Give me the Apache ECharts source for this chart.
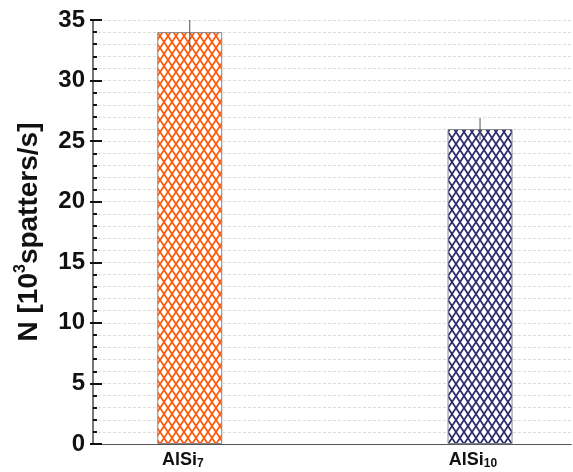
<!DOCTYPE html>
<html>
<head>
<meta charset="utf-8">
<script src="https://cdn.jsdelivr.net/npm/echarts@6/dist/echarts.min.js"></script>
<style>html,body{margin:0;padding:0;background:#fff}#c{width:573px;height:472px}</style>
</head>
<body>
<div id="c"></div>
<script>
var categories = ['AlSi7', 'AlSi10'];
var subscripts = ['7', '10'];
var positions = [1, 4];
var values = [34, 26];
var errors = [1.5, 0.9];
var colors = ['#ff5a0a', '#2b2b6e'];
var yTicks = [0, 5, 10, 15, 20, 25, 30, 35];

function makePattern(color) {
  var w = 8, h = 12;
  var cv = document.createElement('canvas');
  cv.width = w; cv.height = h;
  var ctx = cv.getContext('2d');
  ctx.fillStyle = '#fff';
  ctx.fillRect(0, 0, w, h);
  ctx.strokeStyle = color;
  ctx.lineWidth = 1.8;
  for (var k = -1; k <= 1; k++) {
    ctx.beginPath();
    ctx.moveTo(k * w, 0); ctx.lineTo(k * w + w, h);
    ctx.moveTo(k * w + w, 0); ctx.lineTo(k * w, h);
    ctx.stroke();
  }
  return { image: cv, repeat: 'repeat' };
}

var chart = echarts.init(document.getElementById('c'), null, { renderer: 'canvas' });
var font = 'Liberation Sans, Arial, sans-serif';

var barData = positions.map(function (p, i) {
  return { value: [p, values[i]], itemStyle: { color: makePattern(colors[i]) } };
});
var errData = positions.map(function (p, i) { return [p, values[i], errors[i]]; });

chart.setOption({
  animation: false,
  grid: { left: 93, right: 2, top: 20, bottom: 28 },
  xAxis: [{
    type: 'value', min: 0, max: 4.94, interval: 1,
    axisLine: { lineStyle: { color: '#444', width: 1 } },
    axisTick: { show: false },
    splitLine: { show: false },
    axisLabel: {
      showMaxLabel: false, showMinLabel: false, margin: 6,
      padding: [0, 14, 0, 0],
      formatter: function (v) {
        var i = positions.indexOf(v);
        if (i < 0) return '';
        return '{b|AlSi}{s|' + subscripts[i] + '}';
      },
      rich: {
        b: { fontFamily: font, fontWeight: 'bold', fontSize: 18, color: '#111', lineHeight: 20 },
        s: { fontFamily: font, fontWeight: 'bold', fontSize: 12, color: '#111', verticalAlign: 'bottom', lineHeight: 13 }
      }
    }
  }, {
    type: 'value', min: 0, max: 4.94, position: 'top',
    axisLine: { show: true, lineStyle: { color: '#555', width: 1 } },
    axisTick: { show: false }, axisLabel: { show: false }, splitLine: { show: false }
  }],
  yAxis: [{
    type: 'value', min: 0, max: 35, interval: 5,
    name: '{n|N [10}{sup|3}{n|spatters/s]}',
    nameLocation: 'middle', nameGap: 48, nameRotate: 90,
    nameTextStyle: {
      rich: {
        n: { fontFamily: font, fontWeight: 'bold', fontSize: 28, color: '#111', lineHeight: 32 },
        sup: { fontFamily: font, fontWeight: 'bold', fontSize: 16, color: '#111', verticalAlign: 'top', lineHeight: 16 }
      }
    },
    axisLine: { show: true, lineStyle: { color: '#777', width: 2 } },
    axisTick: { show: true, inside: true, length: 9, lineStyle: { color: '#111', width: 2 } },
    minorTick: { show: true, splitNumber: 5, length: 4, lineStyle: { color: '#111', width: 2 } },
    splitLine: { show: true, lineStyle: { color: '#dcdcdc', type: [3, 2], width: 1 } },
    minorSplitLine: { show: true, lineStyle: { color: '#dcdcdc', type: [3, 2], width: 1 } },
    axisLabel: { margin: 8, fontFamily: font, fontWeight: 'bold', fontSize: 24, color: '#111' }
  }, {
    type: 'value', min: 0, max: 35, interval: 5, position: 'right',
    axisLine: { show: false },
    axisTick: { show: true, inside: true, length: 3, lineStyle: { color: '#111', width: 2 } },
    axisLabel: { show: false }, splitLine: { show: false }
  }],
  series: [{
    type: 'bar', xAxisIndex: 0, yAxisIndex: 0,
    barWidth: 65,
    data: barData,
    itemStyle: { borderColor: '#888', borderWidth: 1 }
  }, {
    type: 'custom', xAxisIndex: 0, yAxisIndex: 0, clip: true, z: 5,
    data: errData,
    renderItem: function (params, api) {
      var x = api.value(0), v = api.value(1), e = api.value(2);
      var top = api.coord([x, v + e]);
      var bot = api.coord([x, v - e]);
      return {
        type: 'line',
        shape: { x1: top[0], y1: top[1], x2: bot[0], y2: bot[1] },
        style: { stroke: '#555', lineWidth: 1 }
      };
    }
  }]
});
</script>
</body>
</html>
